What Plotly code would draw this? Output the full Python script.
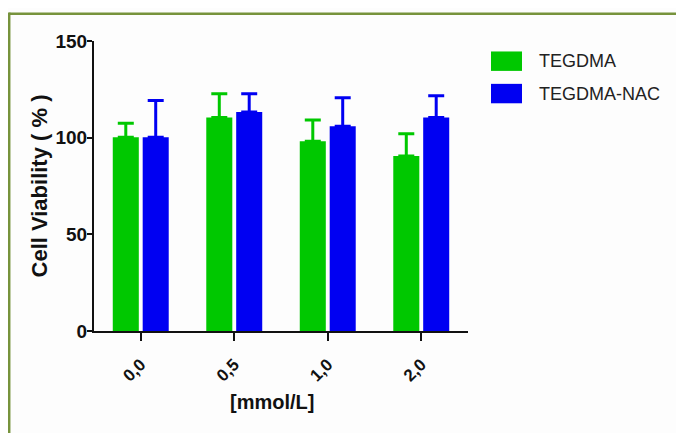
import plotly.graph_objects as go

categories = ["0,0", "0,5", "1,0", "2,0"]
series_names = ["TEGDMA", "TEGDMA-NAC"]
tegdma_mean = [100.2, 110.4, 98.2, 90.5]
tegdma_err = [7.3, 12.3, 11.0, 11.5]
nac_mean = [100.2, 113.3, 105.9, 110.4]
nac_err = [19.0, 9.4, 14.8, 11.3]
y_ticks = [0, 50, 100, 150]

GREEN = "#00c800"
BLUE = "#0000f2"
FONT = "Arial, Liberation Sans, sans-serif"

OFF = 8  # page body margin
W, H = 684 - OFF, 433 - OFF
L = 94 - OFF
T = 40.5 - OFF
R = W - (468 - OFF)
B = H - (331.5 - OFF)
pw, ph = W - L - R, H - T - B

def px(x):  # reference page px -> paper
    return (x - OFF - L) / pw

def py(y):
    return (H - B - (y - OFF)) / ph

fig = go.Figure()
for name, mean, err, col in [(series_names[0], tegdma_mean, tegdma_err, GREEN),
                             (series_names[1], nac_mean, nac_err, BLUE)]:
    fig.add_trace(go.Bar(
        x=categories, y=mean, name=name, marker=dict(color=col, line=dict(width=0)),
        error_y=dict(type="data", symmetric=False, array=err, arrayminus=[0] * len(err),
                     color=col, thickness=3, width=8),
        showlegend=False,
    ))

shapes = [
    dict(type="line", xref="paper", yref="paper", x0=px(9.2), x1=px(720), y0=py(13.2), y1=py(13.2),
         line=dict(color="#77933c", width=2.5)),
    dict(type="line", xref="paper", yref="paper", x0=px(9.2), x1=px(9.2), y0=py(12), y1=py(460),
         line=dict(color="#77933c", width=2.5)),
]
annotations = []
leg_cols = [GREEN, BLUE]
leg_tops = [51, 83.5]
for i, name in enumerate(series_names):
    y0 = leg_tops[i]
    shapes.append(dict(type="rect", xref="paper", yref="paper", x0=px(491), x1=px(522),
                       y0=py(y0), y1=py(y0 + 19.5), fillcolor=leg_cols[i], line=dict(width=0)))
    annotations.append(dict(text=name, xref="paper", yref="paper", x=px(537), y=py(y0 + 10),
                            xanchor="left", yanchor="middle", showarrow=False,
                            font=dict(family=FONT, size=18, color="#222222")))
annotations.append(dict(text="[mmol/L]", xref="paper", yref="paper", x=px(271.5), y=py(403),
                        xanchor="center", yanchor="middle", showarrow=False,
                        font=dict(family=FONT, size=20, color="#111111", weight="bold")))

fig.update_layout(
    width=W, height=H, margin=dict(l=L, r=R, t=T, b=B),
    paper_bgcolor="#fdfdfd", plot_bgcolor="#fdfdfd",
    barmode="group", bargap=0.36, bargroupgap=0.13,
    shapes=shapes, annotations=annotations,
    font=dict(family=FONT, color="#111111"),
)
fig.update_xaxes(
    range=[-0.5, 3.5], showline=True, linecolor="#111111", linewidth=2,
    ticks="outside", ticklen=8, tickwidth=2, tickcolor="#111111",
    tickangle=-45, tickfont=dict(family=FONT, size=17, color="#111111", weight="bold"),
    ticklabelstandoff=7,
    showgrid=False, zeroline=False,
)
fig.update_yaxes(
    range=[0, 150], tickvals=y_ticks, showline=True, linecolor="#111111", linewidth=2,
    ticks="outside", ticklen=5, tickwidth=2, tickcolor="#111111",
    tickfont=dict(family=FONT, size=19, color="#111111", weight="bold"),
    ticklabelstandoff=-4,
    showgrid=False, zeroline=False,
    title=dict(text="Cell Viability ( % )", font=dict(family=FONT, size=22, color="#111111", weight="bold"),
               standoff=2),
)
fig.write_html("out.html")
